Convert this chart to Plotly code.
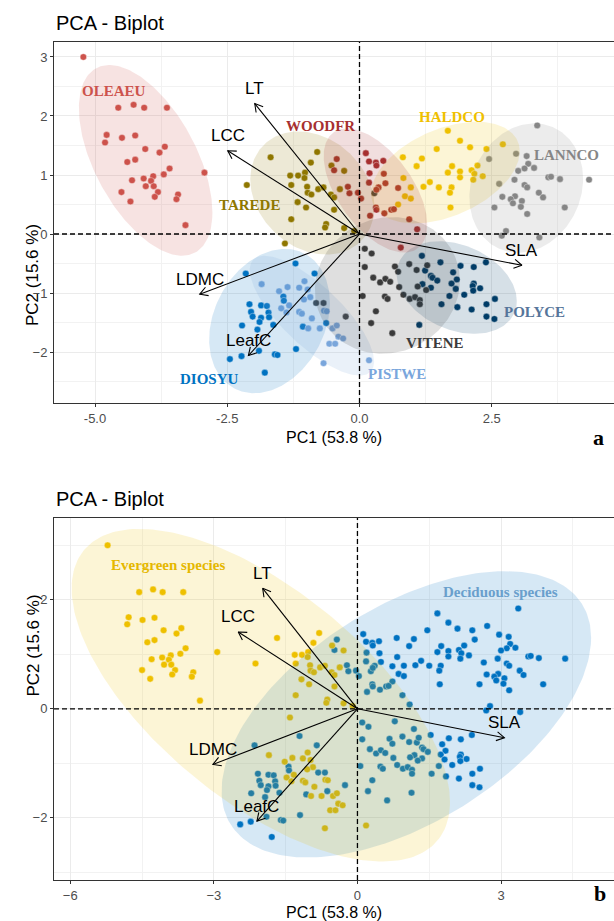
import numpy as np
import plotly.graph_objects as go

W, H = 614, 921

# ---------------- data ----------------
species = ["DIOSYU", "HALDCO", "LANNCO", "OLEAEU", "PISTWE",
           "POLYCE", "TAREDE", "VITENE", "WOODFR"]
habit_groups = ["Deciduous species", "Evergreen species"]
species_habit = {"DIOSYU": "Deciduous species", "HALDCO": "Deciduous species",
                 "LANNCO": "Deciduous species", "OLEAEU": "Evergreen species",
                 "PISTWE": "Evergreen species", "POLYCE": "Deciduous species",
                 "TAREDE": "Evergreen species", "VITENE": "Deciduous species",
                 "WOODFR": "Deciduous species"}

OLEAEU_x = [-5.22, -4.56, -4.27, -4.07, -3.64, -4.78, -4.81, -4.49, -4.24, -4.05, -3.78, -3.68, -4.39, -4.24, -3.59,
            -3.70, -2.93, -4.30, -4.08, -3.90, -3.94, -4.04, -3.89, -4.50, -3.81, -4.33, -3.87, -3.43, -3.46, -3.29]
OLEAEU_y = [3.00, 2.14, 2.19, 2.14, 2.14, 1.68, 1.55, 1.63, 1.67, 1.44, 1.38, 1.48, 1.22, 1.26, 1.11,
            1.01, 1.04, 0.91, 0.94, 0.98, 0.90, 0.81, 0.81, 0.71, 0.71, 0.55, 0.63, 0.67, 0.59, 0.15]

TAREDE_x = [-2.13, -1.68, -0.80, -0.92, -1.31, -1.16, -1.03, -1.04, -1.29, -0.99, -0.98, -0.91, -0.78, -0.68,
            -0.53, -0.29, -0.37, -0.54, -0.48, -1.17, -1.01, -0.48, -1.29, -0.63, -0.65, -0.29, -1.41, -0.10]
TAREDE_y = [0.83, 1.30, 1.39, 1.21, 0.99, 0.99, 1.04, 0.95, 0.83, 0.80, 0.70, 0.67, 0.76, 0.79,
            1.16, 1.07, 0.76, 0.67, 0.62, 0.54, 0.45, 0.41, 0.25, 0.17, 0.11, 0.10, -0.16, 0.05]

WOODFR_x = [-0.43, -0.48, 0.12, 0.18, 0.31, 0.32, 0.45, 0.19, 0.46, -0.22, -0.19, -0.03, 0.03, 0.18,
            0.36, 0.49, 0.32, 0.31, 0.32, 0.47, 0.60, 0.65, 0.20, 0.94, 1.09, 0.78, 0.73]
WOODFR_y = [1.27, 1.08, 1.37, 1.23, 1.21, 1.16, 1.24, 1.03, 1.02, 0.80, 0.69, 0.70, 0.60, 0.87,
            0.79, 0.86, 0.75, 0.45, 0.41, 0.35, 0.41, 0.42, 0.31, 0.25, 0.08, -0.23, 0.78]

HALDCO_x = [1.67, 1.90, 1.46, 2.09, 2.40, 2.71, 1.18, 1.08, 1.75, 2.23, 1.67, 1.90, 1.90, 2.12, 2.17,
            2.15, 2.33, 1.33, 1.21, 1.50, 1.74, 1.71, 1.72, 0.97, 0.82, 0.83, 0.86, 0.73, 0.97]
HALDCO_y = [1.75, 1.58, 1.44, 1.47, 1.44, 1.52, 1.28, 1.15, 1.15, 1.16, 1.04, 1.06, 0.96, 1.08, 1.02,
            0.92, 0.98, 0.88, 0.80, 0.79, 0.79, 0.70, 0.45, 0.79, 1.30, 0.95, 0.64, 0.50, 0.60]

LANNCO_x = [3.36, 2.96, 2.45, 3.16, 3.19, 3.12, 3.30, 3.00, 2.93, 3.57, 3.79, 4.34, 2.64, 3.12, 3.17,
            2.94, 2.70, 2.86, 2.90, 3.07, 3.05, 3.39, 3.47, 2.55, 3.17, 3.88, 2.77, 2.69, 3.40, 3.62]
LANNCO_y = [1.84, 1.36, 1.27, 1.32, 1.19, 1.11, 1.12, 1.07, 0.92, 0.96, 0.93, 0.92, 0.85, 0.83, 0.79,
            0.64, 0.63, 0.59, 0.52, 0.56, 0.46, 0.70, 0.62, 0.45, 0.34, 0.45, 0.05, -0.03, -0.06, 0.97]

DIOSYU_x = [-1.21, -2.15, -0.85, -1.44, -1.43, -2.08, -1.86, -1.75, -2.05, -1.72, -2.02, -1.86, -1.71,
            -1.89, -2.22, -1.63, -1.93, -1.07, -0.63, -2.45, -2.23, -1.90, -1.60, -1.55, -1.20, -1.79]
DIOSYU_y = [-0.50, -0.67, -0.67, -1.06, -1.13, -1.19, -1.21, -1.22, -1.32, -1.33, -1.40, -1.42, -1.41,
            -1.49, -1.55, -1.54, -1.62, -1.57, -1.51, -2.12, -2.07, -1.98, -2.04, -2.05, -1.95, -2.35]

PISTWE_x = [-1.85, -1.52, -1.36, -1.14, -1.04, -0.98, -0.93, -1.05, -1.33, -1.48, -1.38, -1.14, -1.09,
            -0.90, -0.97, -0.75, -0.67, -0.62, -0.51, -0.43, -0.40, -0.31, -0.57, -0.46, -0.68, 0.18]
PISTWE_y = [-0.85, -0.97, -0.90, -0.91, -0.80, -0.94, -1.07, -1.11, -1.21, -1.26, -1.33, -1.32, -1.35,
            -1.43, -1.60, -1.60, -1.30, -1.31, -1.60, -1.55, -1.74, -1.77, -1.86, -1.86, -2.19, -2.14]

VITENE_x = [0.10, 0.23, 0.10, 0.26, 0.06, 0.22, -0.82, -0.68, -0.26, 0.39, 0.49, 0.58, 0.67, 0.73, 0.94,
            1.08, 0.75, 0.83, 0.95, 1.05, 1.14, 1.14, 0.48, 0.53, 1.10, 1.26, 1.28, 0.31, 0.62, 0.28]
VITENE_y = [-0.25, -0.33, -0.56, -0.74, -1.05, -1.51, -1.17, -1.17, -1.40, -0.82, -0.76, -0.81, -0.55, -0.64, -0.51,
            -0.61, -0.90, -1.03, -1.10, -1.07, -1.12, -1.19, -1.06, -1.10, -0.89, -0.95, -0.53, -1.31, -1.68, 0.69]

POLYCE_x = [1.18, 1.53, 1.91, 2.16, 2.39, 1.24, 1.35, 1.38, 1.47, 1.77, 1.84, 1.74, 1.82, 1.19, 1.35,
            2.16, 2.14, 2.28, 2.15, 1.98, 1.70, 1.55, 1.85, 2.12, 2.40, 2.56, 2.40, 2.55, 1.13]
POLYCE_y = [-0.37, -0.48, -0.54, -0.56, -0.48, -0.62, -0.71, -0.74, -0.79, -0.65, -0.77, -0.84, -0.93, -0.85, -0.91,
            -0.84, -0.88, -0.92, -0.96, -1.03, -1.05, -1.19, -1.24, -1.28, -1.19, -1.10, -1.40, -1.44, -1.54]

var_names = ["LT", "LCC", "LDMC", "LeafC", "SLA"]
var_pc1 = [-1.98, -2.49, -3.02, -2.10, 3.07]
var_pc2 = [2.21, 1.41, -1.02, -2.06, -0.53]

x_title = "PC1 (53.8 %)"
y_title = "PC2 (15.6 %)"
plot_title = "PCA - Biplot"

pts = {
    "DIOSYU": (DIOSYU_x, DIOSYU_y), "HALDCO": (HALDCO_x, HALDCO_y),
    "LANNCO": (LANNCO_x, LANNCO_y), "OLEAEU": (OLEAEU_x, OLEAEU_y),
    "PISTWE": (PISTWE_x, PISTWE_y), "POLYCE": (POLYCE_x, POLYCE_y),
    "TAREDE": (TAREDE_x, TAREDE_y), "VITENE": (VITENE_x, VITENE_y),
    "WOODFR": (WOODFR_x, WOODFR_y),
}

# ---------------- style ----------------
species_colors = {"DIOSYU": "#0073C2", "HALDCO": "#EFC000", "LANNCO": "#868686",
                  "OLEAEU": "#CD534C", "PISTWE": "#7AA6DC", "POLYCE": "#003C67",
                  "TAREDE": "#8F7700", "VITENE": "#3B3B3B", "WOODFR": "#A73030"}
habit_colors = {"Deciduous species": "#0073C2", "Evergreen species": "#EFC000"}
label_colors = dict(species_colors)
label_colors["POLYCE"] = "#56759A"
habit_label_colors = {"Deciduous species": "#6A9FCC", "Evergreen species": "#E5B800"}

species_label_pos = {"OLEAEU": (-4.64, 2.43), "TAREDE": (-2.08, 0.49), "WOODFR": (-0.74, 1.83),
                     "HALDCO": (1.74, 1.99), "LANNCO": (3.92, 1.34), "POLYCE": (3.31, -1.33),
                     "VITENE": (1.43, -1.85), "PISTWE": (0.70, -2.37), "DIOSYU": (-2.84, -2.46)}
habit_label_pos = {"Evergreen species": (-3.95, 2.63), "Deciduous species": (2.99, 2.15)}

SANS = "Liberation Sans, Arial, sans-serif"
SERIF = "Liberation Serif, Times New Roman, serif"
ELL_ALPHA = 0.16

xdom = [54 / W, 1.0]
ydomA = [1 - 403 / H, 1 - 42 / H]
ydomB = [1 - 880 / H, 1 - 518 / H]
xrA = [-5.775, 4.811]
yrA = [-2.864, 3.254]
xrB = [-6.34, 5.36]
yrB = [-3.14, 3.50]


def rgba(hexc, a):
    hexc = hexc.lstrip("#")
    r, g, b = int(hexc[0:2], 16), int(hexc[2:4], 16), int(hexc[4:6], 16)
    return f"rgba({r},{g},{b},{a})"


def norm_ellipse(xs, ys, level=0.95, n=240):
    p = np.column_stack([xs, ys]).astype(float)
    c = p.mean(axis=0)
    cov = np.cov(p.T)
    d2 = len(xs) - 1
    fq = (d2 / 2.0) * ((1 - level) ** (-2.0 / d2) - 1)   # F(2, n-1) quantile
    r = np.sqrt(2 * fq)
    R = np.linalg.cholesky(cov).T
    t = np.linspace(0, 2 * np.pi, n)
    circ = np.column_stack([np.cos(t), np.sin(t)])
    e = c + r * (circ @ R)
    return e[:, 0], e[:, 1]


fig = go.Figure()


def add_panel(xa, ya, groups, colors, xr, yr, ydom):
    # points
    for g, (gx, gy) in groups.items():
        fig.add_trace(go.Scatter(x=gx, y=gy, mode="markers",
                                 marker=dict(size=6.6, color=colors[g],
                                             line=dict(width=0.5, color="rgba(255,255,255,0.85)")),
                                 hoverinfo="skip", showlegend=False, xaxis=xa, yaxis=ya))
    # ellipses (drawn over the points, translucent)
    for g, (gx, gy) in groups.items():
        ex, ey = norm_ellipse(gx, gy)
        fig.add_trace(go.Scatter(x=ex, y=ey, mode="lines", fill="toself",
                                 fillcolor=rgba(colors[g], ELL_ALPHA), line=dict(width=0),
                                 hoverinfo="skip", showlegend=False, xaxis=xa, yaxis=ya))
    # arrows (loadings)
    sx = (xdom[1] - xdom[0]) * W / (xr[1] - xr[0])
    sy = (ydom[1] - ydom[0]) * H / (yr[1] - yr[0])
    lx, ly = [], []
    L = 9.0
    for tx, ty in zip(var_pc1, var_pc2):
        dx, dy = tx * sx, ty * sy
        n = np.hypot(dx, dy)
        ux, uy = -dx / n, -dy / n
        lx += [0, tx, None]
        ly += [0, ty, None]
        ends = []
        for ang in (np.pi / 6, -np.pi / 6):
            vx = (ux * np.cos(ang) - uy * np.sin(ang)) * L
            vy = (ux * np.sin(ang) + uy * np.cos(ang)) * L
            ends.append((tx + vx / sx, ty + vy / sy))
        lx += [ends[0][0], tx, ends[1][0], None]
        ly += [ends[0][1], ty, ends[1][1], None]
    fig.add_trace(go.Scatter(x=lx, y=ly, mode="lines", line=dict(color="black", width=1.1),
                             hoverinfo="skip", showlegend=False, xaxis=xa, yaxis=ya))
    for name, tx, ty in zip(var_names, var_pc1, var_pc2):
        fig.add_annotation(x=tx, y=ty, xref=xa, yref=ya, text=name, showarrow=False,
                           yshift=15, font=dict(family=SANS, size=17, color="black"))


groupsA = {s: pts[s] for s in species}
add_panel("x", "y", groupsA, species_colors, xrA, yrA, ydomA)

groupsB = {}
for g in habit_groups:
    gx, gy = [], []
    for s in species:
        if species_habit[s] == g:
            gx += pts[s][0]
            gy += pts[s][1]
    groupsB[g] = (gx, gy)
add_panel("x2", "y2", groupsB, habit_colors, xrB, yrB, ydomB)

for s, (px, py) in species_label_pos.items():
    fig.add_annotation(x=px, y=py, xref="x", yref="y", text=f"<b>{s}</b>", showarrow=False,
                       font=dict(family=SERIF, size=15, color=label_colors[s]))
for g, (px, py) in habit_label_pos.items():
    fig.add_annotation(x=px, y=py, xref="x2", yref="y2", text=f"<b>{g}</b>", showarrow=False,
                       font=dict(family=SERIF, size=15, color=habit_label_colors[g]))

# dashed zero lines
for xa, ya in (("x", "y"), ("x2", "y2")):
    fig.add_shape(type="line", xref=f"{xa} domain", yref=ya, x0=0, x1=1, y0=0, y1=0,
                  line=dict(color="black", width=1.3, dash="5px,3px"), layer="above")
    fig.add_shape(type="line", xref=xa, yref=f"{ya} domain", x0=0, x1=0, y0=0, y1=1,
                  line=dict(color="black", width=1.3, dash="5px,3px"), layer="above")

# titles and texts
for ydom, xt_off in ((ydomA, 34), (ydomB, 32)):
    fig.add_annotation(x=54 / W, y=ydom[1] + 19 / H, xref="paper", yref="paper", text=plot_title,
                       showarrow=False, xanchor="left", yanchor="middle",
                       font=dict(family=SANS, size=20, color="black"))
    fig.add_annotation(x=(xdom[0] + xdom[1]) / 2, y=ydom[0] - xt_off / H, xref="paper", yref="paper",
                       text=x_title, showarrow=False, yanchor="middle", xanchor="center",
                       borderpad=0, font=dict(family=SANS, size=16, color="black"))
    fig.add_annotation(x=21 / W, y=(ydom[0] + ydom[1]) / 2, xref="paper", yref="paper",
                       text=y_title, showarrow=False, textangle=-90,
                       font=dict(family=SANS, size=17, color="black"))

fig.add_annotation(x=606 / W, y=1 - 437 / H, xref="paper", yref="paper", text="<b>a</b>",
                   showarrow=False, font=dict(family=SERIF, size=22, color="black"))
fig.add_annotation(x=608 / W, y=1 - 908 / H, xref="paper", yref="paper", text="<b>b</b>",
                   showarrow=False, font=dict(family=SERIF, size=22, color="black"))

axis_common = dict(showline=True, mirror=True, linecolor="#333333", linewidth=1,
                   showgrid=True, gridcolor="#EBEBEB", gridwidth=1.1, zeroline=False,
                   ticks="outside", ticklen=3, tickwidth=1, tickcolor="#333333",
                   tickfont=dict(family=SANS, size=13, color="#4D4D4D"))
minor_style = dict(showgrid=True, gridcolor="#F2F2F2", gridwidth=0.6, ticks="")

fig.update_layout(
    width=W, height=H, margin=dict(l=0, r=0, t=0, b=0),
    paper_bgcolor="white", plot_bgcolor="white", showlegend=False,
    xaxis=dict(domain=xdom, range=xrA, anchor="y",
               tickvals=[-5, -2.5, 0, 2.5], ticktext=["-5.0", "-2.5", "0.0", "2.5"],
               minor=dict(tickvals=[-3.75, -1.25, 1.25, 3.75], **minor_style), **axis_common),
    yaxis=dict(domain=ydomA, range=yrA, anchor="x",
               tickvals=[-2, -1, 0, 1, 2, 3],
               minor=dict(tickvals=[-2.5, -1.5, -0.5, 0.5, 1.5, 2.5], **minor_style), **axis_common),
    xaxis2=dict(domain=xdom, range=xrB, anchor="y2",
                tickvals=[-6, -3, 0, 3],
                minor=dict(tickvals=[-4.5, -1.5, 1.5, 4.5], **minor_style), **axis_common),
    yaxis2=dict(domain=ydomB, range=yrB, anchor="x2",
                tickvals=[-2, 0, 2],
                minor=dict(tickvals=[-3, -1, 1, 3], **minor_style), **axis_common),
)

fig.write_html("out.html")
